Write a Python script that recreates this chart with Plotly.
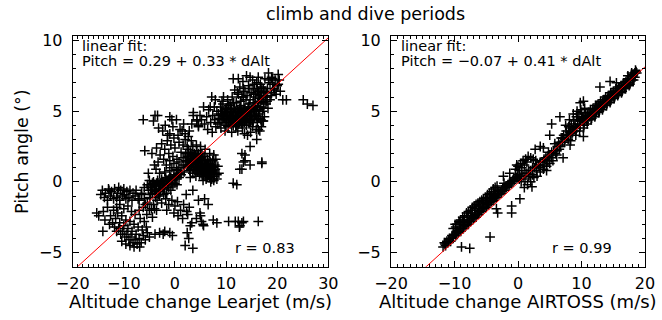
import plotly.graph_objects as go

# ---------------- data ----------------
title_text = "climb and dive periods"
xlabels = ["Altitude change Learjet (m/s)", "Altitude change AIRTOSS (m/s)"]
ylabel = "Pitch angle (°)"
fit_intercepts = [0.29, -0.07]
fit_slopes = [0.33, 0.41]
fit_texts = ["Pitch = 0.29 + 0.33 * dAlt", "Pitch = −0.07 + 0.41 * dAlt"]
corr_texts = ["r = 0.83", "r = 0.99"]
x_ranges = [[-20, 30], [-20, 20]]
y_range = [-6, 10.35]

# Learjet panel: point groups (dAlt, pitch)
lear_upper = [
    (11.4, 7.3), (12.4, 7.3), (14.0, 7.5), (14.7, 7.4), (16.3, 7.4), (18.3, 7.7), (20.2, 7.6), (18.9, 7.4),
    (19.6, 7.2), (17.6, 7.3), (15.2, 7.2), (13.3, 7.1), (12.7, 6.7), (13.7, 6.4), (14.4, 6.8), (15.3, 6.6),
    (16.0, 7.0), (17.0, 6.7), (17.6, 6.4), (18.6, 7.0), (19.3, 6.6), (20.0, 6.8), (20.6, 6.4), (19.8, 6.2),
    (18.9, 6.3), (17.3, 6.1), (16.4, 6.4), (15.8, 6.2), (14.9, 6.3), (14.1, 6.1), (13.1, 6.0), (12.2, 6.3),
    (11.7, 6.5), (18.1, 6.6), (16.7, 6.9), (15.6, 6.9), (18.6, 5.8), (21.1, 5.8), (21.8, 5.8), (25.1, 5.8),
    (25.9, 5.5), (27.0, 5.4), (15.7, 6.0), (16.7, 6.1), (18.0, 6.0), (16.3, 5.7), (14.7, 5.8), (13.4, 6.0),
    (12.4, 6.2), (12.8, 5.7), (10.8, 5.5), (9.5, 6.0), (9.2, 5.7), (7.2, 6.0), (7.9, 5.8), (6.9, 5.3),
    (5.6, 5.3), (4.9, 4.7), (3.6, 4.9), (3.3, 4.1), (4.3, 4.3),
    (8.2, 5.0), (8.6, 4.5), (8.9, 5.3), (9.3, 4.8), (9.6, 4.2), (9.9, 5.1), (10.2, 4.6), (10.5, 5.4),
    (10.8, 4.1), (11.0, 4.9), (11.3, 4.4), (11.6, 5.2), (11.9, 3.9), (12.1, 4.7), (12.4, 5.0), (12.7, 4.3),
    (13.0, 4.8), (13.2, 3.8), (13.5, 5.3), (13.8, 4.5), (14.0, 4.0), (14.3, 4.9), (14.6, 4.4), (14.9, 5.1),
    (15.2, 3.9), (15.5, 4.6), (15.8, 5.4), (16.1, 4.2), (16.4, 4.8), (16.8, 4.4), (17.1, 5.0), (17.5, 4.6),
    (17.8, 5.5), (18.2, 5.2), (8.4, 4.1), (9.0, 3.8), (9.8, 3.6), (10.4, 3.9), (11.1, 3.5), (12.3, 3.6),
    (13.6, 3.4), (14.8, 3.5), (15.9, 3.7), (16.9, 3.9), (17.2, 4.3), (9.2, 4.4), (10.0, 4.0), (10.7, 4.7),
    (11.4, 4.0), (11.8, 4.6), (12.5, 4.1), (12.9, 5.4), (13.3, 4.2), (14.1, 4.7), (14.5, 5.5), (15.0, 4.7),
    (15.6, 5.0), (16.2, 5.3), (16.6, 3.6), (17.4, 5.6), (13.9, 5.8), (12.0, 5.6), (10.3, 5.8), (11.2, 6.0),
    (14.2, 3.3), (6.2, 4.6), (6.6, 5.1), (7.0, 4.2), (7.4, 4.7), (7.7, 5.3), (8.0, 3.9), (5.8, 4.1),
    (6.4, 3.7), (7.3, 3.5), (7.8, 4.4), (5.2, 4.4), (4.6, 3.9), (9.4, 5.5), (10.1, 5.2), (11.5, 5.6),
    (12.6, 5.1), (13.1, 5.0), (14.4, 5.2), (15.3, 5.6), (16.5, 5.9), (17.9, 6.3), (19.1, 6.9), (20.4, 7.2),
]
lear_core_extra = [
    (8.5, 4.8), (8.8, 4.2), (9.1, 5.0), (9.4, 4.5), (9.7, 4.9), (10.0, 4.4), (10.3, 5.0), (10.6, 4.5),
    (10.9, 5.1), (11.2, 4.7), (11.5, 4.2), (11.8, 5.0), (12.1, 4.3), (12.4, 4.6), (12.7, 5.2), (13.0, 4.5),
    (13.3, 4.9), (13.6, 4.2), (13.9, 5.0), (14.2, 4.5), (14.5, 4.1), (14.8, 4.8), (15.1, 4.4), (15.4, 5.1),
    (15.7, 4.7), (16.0, 5.0), (16.3, 4.5), (16.6, 5.1), (9.6, 4.6), (10.1, 4.8), (10.9, 4.6), (11.7, 4.4),
    (12.2, 5.1), (12.8, 4.7), (13.4, 4.5), (14.0, 4.3), (14.6, 4.7), (15.3, 4.2), (11.0, 4.2), (12.0, 4.0),
    (13.0, 4.1), (14.0, 4.6), (15.0, 5.0), (16.0, 4.6), (10.5, 4.3), (11.4, 4.8), (12.6, 4.4), (13.7, 4.8),
    (14.8, 4.3), (9.0, 4.7), (13.1, 4.4), (12.3, 4.9), (11.1, 5.2), (13.6, 5.1), (14.3, 5.3), (15.6, 5.3),
    (16.8, 5.3), (17.3, 5.2), (18.0, 5.7), (16.4, 5.6), (17.0, 5.8), (17.7, 6.0), (18.8, 6.1), (19.5, 6.5),
    (20.2, 6.9), (16.1, 6.5), (17.3, 6.6), (18.3, 7.2), (19.1, 7.3), (14.5, 6.6), (13.4, 6.6), (15.4, 6.2),
    (16.9, 6.3),
]
lear_right = [
    (14.7, 2.5), (16.3, 3.7), (17.3, 4.3), (17.0, 1.4), (13.7, 1.5), (13.1, 0.9), (13.7, 1.9), (16.0, 3.0),
    (13.1, 2.0), (13.4, 1.4), (14.7, 1.2), (12.7, 0.9), (17.0, 1.3), (11.4, -0.1), (12.1, -0.2),
    (5.2, -2.8), (5.6, -3.1), (7.5, -2.7), (8.2, -2.9), (10.5, -2.8), (11.8, -2.8), (12.4, -2.8), (12.7, -3.1),
    (13.1, -2.9), (12.6, -3.2), (13.4, -2.8), (16.3, -2.8), (4.9, -2.2), (2.0, -4.5), (3.5, -4.7), (2.4, -3.6),
    (2.7, -4.0), (5.8, -1.2), (6.5, -1.6),
]
lear_middle = [
    (2.5, 1.8), (3.0, 2.1), (3.4, 1.6), (3.8, 2.0), (4.2, 1.4), (4.5, 1.9), (4.9, 1.2), (5.2, 1.7),
    (5.6, 1.0), (5.9, 1.5), (6.3, 0.8), (6.6, 1.3), (7.0, 0.6), (7.3, 1.1), (7.7, 0.4), (3.2, 1.2),
    (3.6, 0.9), (4.0, 1.1), (4.4, 0.7), (4.8, 0.5), (5.1, 0.9), (5.5, 0.4), (5.8, 0.7), (6.1, 0.2),
    (6.5, 0.5), (6.8, 0.9), (7.2, 0.2), (7.5, 0.7), (7.9, 0.9), (8.2, 0.5), (2.8, 1.4), (3.3, 1.9),
    (3.9, 1.5), (4.3, 2.2), (4.7, 1.6), (5.0, 2.0), (5.4, 1.3), (5.7, 1.8), (6.0, 1.1), (6.4, 1.6),
    (6.9, 1.4), (7.4, 1.5), (7.8, 1.2), (4.1, 0.4), (4.6, 1.0), (5.3, 0.6), (6.2, 1.2), (6.7, 0.3),
    (7.1, 0.9), (3.5, 0.6), (2.9, 0.8), (2.4, 1.1), (2.0, 1.5), (1.6, 1.2), (1.2, 1.0), (1.0, 0.6),
    (0.6, 0.8), (0.3, 0.5), (8.0, 1.6), (8.4, 1.1), (8.6, 0.6), (7.6, 1.9), (6.8, 2.0), (5.9, 2.3),
    (5.0, 2.5), (4.2, 2.6), (3.5, 2.5), (2.6, 2.3), (2.1, 2.0), (1.6, 1.7), (0.8, 1.4), (7.0, 0.0),
    (7.6, 0.1), (8.2, 0.2), (5.5, 0.1), (3.0, 0.3), (1.8, 0.7),
]
lear_mid_extra = [
    (3.7, 1.3), (4.1, 1.7), (4.5, 1.3), (4.9, 1.6), (5.3, 1.1), (5.7, 1.4), (6.1, 0.9), (6.5, 1.1),
    (6.9, 0.7), (7.3, 0.8), (4.3, 1.0), (4.7, 0.8), (5.1, 0.6), (5.5, 0.8), (5.9, 0.4), (6.3, 0.5),
    (6.7, 0.6), (7.1, 0.4), (3.9, 0.8), (3.4, 1.3), (3.0, 1.6), (4.0, 1.9), (4.6, 2.0), (5.3, 1.9),
    (5.8, 1.2), (6.2, 0.7), (6.6, 1.0), (7.0, 1.2), (7.5, 1.0), (7.8, 0.6), (5.0, 1.0), (5.6, 0.6),
    (4.4, 1.5), (3.6, 1.8), (2.7, 1.9), (2.2, 1.5), (2.6, 1.2), (3.1, 0.9),
]
lear_spread = [
    (-6.2, 4.4), (-3.9, 4.7), (-3.4, 4.7), (-4.2, 4.3), (-3.2, 3.8), (-1.9, 4.0), (-1.0, 4.6), (-0.6, 4.4),
    (-1.0, 3.4), (0.3, 4.4), (1.7, 4.1), (1.0, 3.7), (2.0, 3.4), (2.6, 3.2), (3.6, 4.7), (4.3, 4.4),
    (4.6, 4.0), (-5.9, 2.2), (-5.2, 0.6), (-2.6, 2.7), (-2.0, 2.3), (-1.5, 2.9), (-1.2, 2.0), (-0.8, 2.6),
    (-0.4, 1.8), (0.0, 2.4), (0.4, 1.6), (0.8, 2.8), (1.2, 2.1), (1.6, 2.6), (2.0, 3.0), (2.4, 2.5),
    (-2.2, 1.6), (-1.7, 1.2), (-1.0, 1.5), (-0.6, 1.0), (-0.2, 1.3), (0.3, 0.9), (-2.9, 1.9), (-3.3, 1.4),
    (-3.7, 0.9), (-1.4, 3.3), (-0.2, 3.1), (0.6, 3.3), (1.4, 3.6), (2.8, 3.6), (3.2, 2.9), (-3.6, 2.4),
    (-4.5, 2.0), (-4.0, 1.2), (-2.4, 3.6), (-0.4, 3.9),
]
lear_origin = [
    (-5.4, -0.2), (-5.0, 0.1), (-4.6, -0.4), (-4.2, 0.0), (-3.8, -0.3), (-3.4, 0.1), (-3.0, -0.2), (-2.6, 0.2),
    (-2.2, -0.1), (-1.8, 0.3), (-1.4, 0.0), (-1.0, 0.4), (-0.6, 0.1), (-0.2, 0.5), (0.2, 0.2), (0.6, 0.6),
    (-5.2, -0.6), (-4.4, -0.8), (-3.6, -0.6), (-2.8, -0.7), (-2.0, -0.5), (-1.2, -0.4), (-0.4, -0.3), (0.4, -0.2),
    (-4.8, -0.9), (-4.0, -0.5), (-3.2, -0.9), (-2.4, -0.4), (-1.6, -0.8), (-0.8, -0.6), (0.0, -0.1), (-3.0, 0.6),
    (-2.0, 0.7), (-1.0, 0.8), (-6.0, -1.2), (-5.4, -1.5), (-4.9, -1.1), (-4.2, -1.6), (-3.5, -1.3), (-2.6, -1.5),
    (-1.8, -1.2), (-1.2, -1.6), (-0.6, -1.3), (0.0, -1.7), (0.5, -1.4), (1.1, -2.0), (1.7, -1.6), (2.3, -2.1),
    (2.8, -1.8), (-0.2, -2.2), (0.6, -2.4), (1.5, -2.6), (2.5, -2.3), (3.3, -2.9), (4.2, -2.6), (5.0, -2.4),
    (5.5, -3.0), (3.0, -3.1), (-1.6, -2.0), (-3.6, -2.0), (-7.0, -1.3), (-6.5, -0.8), (-6.0, -0.4), (-5.8, -1.6),
    (-4.6, -1.9), (-3.8, -1.1), (-3.0, -1.0), (-2.2, -0.9), (3.5, -0.6), (2.2, -0.9), (4.6, -1.3),
]
lear_origin_extra = [
    (-4.8, -0.3), (-4.4, -0.1), (-4.0, -0.2), (-3.6, -0.1), (-3.2, -0.3), (-2.8, -0.1), (-2.4, 0.0),
    (-2.0, -0.2), (-1.6, 0.1), (-1.2, 0.2), (-0.8, 0.3), (-0.4, 0.2), (0.0, 0.3), (0.4, 0.4), (-4.6, -0.6),
    (-3.8, -0.7), (-3.0, -0.5), (-2.2, -0.3), (-1.4, -0.2), (-0.6, -0.1), (0.8, 0.3), (1.2, 0.5),
]
lear_band = [
    (-14.2, -0.6), (-13.6, -0.8), (-13.0, -0.5), (-12.4, -0.7), (-11.8, -0.5), (-11.2, -0.8), (-10.6, -0.6),
    (-10.0, -0.5), (-9.4, -0.7), (-8.8, -0.6), (-8.2, -0.8), (-7.6, -0.6), (-13.8, -1.1), (-13.2, -1.3),
    (-12.6, -1.0), (-12.0, -1.2), (-11.4, -1.1), (-10.8, -1.3), (-10.2, -1.0), (-9.6, -1.2), (-9.0, -1.1),
    (-8.4, -1.3), (-7.8, -1.0), (-7.2, -1.2), (-6.6, -0.9), (-14.5, -0.9), (-12.9, -0.6), (-11.0, -0.4),
    (-9.9, -0.9), (-15.3, -2.2), (-14.0, -2.1), (-13.7, -2.7), (-14.1, -3.5), (-14.9, -2.4), (-13.2, -1.8),
]
lear_lower = [
    (-12.0, -2.0), (-11.6, -2.6), (-11.2, -2.2), (-10.8, -2.9), (-10.4, -2.4), (-10.0, -3.1), (-9.6, -2.7),
    (-9.2, -3.3), (-8.8, -2.8), (-8.4, -3.5), (-8.0, -3.0), (-7.6, -3.7), (-12.2, -2.9), (-11.8, -3.2),
    (-11.4, -3.5), (-11.0, -3.3), (-10.6, -3.7), (-10.2, -3.5), (-9.8, -3.9), (-9.4, -3.7), (-9.0, -4.1),
    (-8.6, -3.9), (-8.2, -4.3), (-7.8, -4.1), (-7.4, -4.4), (-7.0, -4.0), (-6.6, -4.3), (-6.2, -3.8),
    (-5.8, -4.1), (-5.4, -3.6), (-5.0, -3.9), (-5.6, -3.2), (-6.0, -2.8), (-6.4, -3.4), (-7.2, -3.2),
    (-6.8, -2.6), (-11.4, -1.8), (-10.8, -1.6), (-10.0, -1.9), (-9.2, -1.7), (-8.5, -2.1), (-7.8, -2.3),
    (-7.0, -2.0), (-6.2, -1.8), (-5.5, -2.3), (-5.0, -2.0), (-4.4, -2.5), (-4.0, -1.9), (-12.6, -2.4),
    (-12.8, -3.0), (-8.8, -4.5), (-8.0, -4.6), (-6.9, -4.6), (-3.9, -3.7), (-3.0, -3.6), (-2.3, -3.7),
    (-1.0, -3.6), (-0.5, -3.8), (-2.0, -3.5), (-10.4, -4.2), (-9.6, -4.4),
]

# AIRTOSS panel: point groups (dAlt, pitch)
airt_low_band = [
    (-11.8, -4.6), (-11.6, -4.3), (-11.4, -4.5), (-11.2, -4.2), (-11.0, -4.3), (-10.8, -4.0), (-10.6, -4.2),
    (-10.4, -3.8), (-10.2, -4.0), (-10.0, -3.7), (-9.8, -3.8), (-9.6, -3.5), (-9.4, -3.6), (-9.2, -3.4),
    (-9.0, -3.5), (-8.8, -3.2), (-8.6, -3.3), (-8.4, -3.0), (-8.2, -3.1), (-8.0, -2.9), (-7.8, -3.0),
    (-7.6, -2.7), (-7.4, -2.8), (-7.2, -2.5), (-7.0, -2.6), (-6.8, -2.4), (-6.6, -2.5), (-6.4, -2.2),
    (-6.2, -2.3), (-6.0, -2.0), (-5.8, -2.1), (-5.6, -1.9), (-5.4, -1.9), (-5.2, -1.7), (-5.0, -1.8),
    (-4.8, -1.5), (-4.6, -1.6), (-4.4, -1.4), (-4.2, -1.4), (-4.0, -1.2), (-3.8, -1.3), (-3.6, -1.0),
    (-3.4, -1.1), (-3.2, -0.9), (-3.0, -0.9), (-2.8, -0.7), (-2.6, -0.8), (-2.4, -0.5), (-2.2, -0.6),
    (-2.0, -0.4), (-1.8, -0.4), (-1.6, -0.2), (-1.4, -0.3), (-1.2, 0.0), (-1.0, -0.1), (-0.8, 0.1),
    (-0.6, 0.1), (-0.4, 0.3), (-0.2, 0.3), (0.0, 0.5),
    (-11.5, -4.4), (-10.9, -4.1), (-10.3, -3.9), (-9.7, -3.6), (-9.1, -3.3), (-8.5, -3.1), (-7.9, -2.8),
    (-7.3, -2.6), (-6.7, -2.3), (-6.1, -2.1), (-5.5, -1.8), (-4.9, -1.6), (-4.3, -1.3), (-3.7, -1.1),
    (-3.1, -0.8), (-2.5, -0.6), (-1.9, -0.3), (-1.3, -0.1), (-0.7, 0.2), (-0.1, 0.4),
]
airt_up_band = [
    (-10.2, -3.3), (-9.9, -3.0), (-9.6, -3.0), (-9.3, -2.8), (-9.0, -2.7), (-8.7, -2.5), (-8.4, -2.4),
    (-8.1, -2.2), (-7.8, -2.1), (-7.5, -2.0), (-7.2, -1.8), (-6.9, -1.7), (-6.6, -1.6), (-6.3, -1.5),
    (-6.0, -1.4), (-5.7, -1.3), (-5.4, -1.2), (-5.1, -1.1), (-4.8, -0.9), (-4.5, -0.8), (-4.2, -0.7),
    (-3.9, -0.5), (-3.6, -0.4), (-3.3, -0.3), (-2.3, 0.4), (-1.3, 0.6), (-2.2, -0.1), (-4.4, -3.9),
    (-8.9, -4.6), (-7.6, -4.7), (-1.0, -1.7), (-1.0, -2.2), (-3.2, -2.2), (-3.4, -1.9),
    (-9.8, -3.2), (-9.2, -2.9), (-8.6, -2.7), (-8.0, -2.4), (-7.4, -2.2), (-6.8, -1.9), (-6.2, -1.7),
    (-5.6, -1.5), (-5.0, -1.3), (-4.4, -1.0), (-3.8, -0.8), (-3.2, -0.6),
]
airt_mid = [
    (0.2, 0.2), (0.5, 0.0), (0.8, 0.4), (1.1, 0.2), (1.4, 0.6), (1.7, 0.4), (2.0, 0.8), (2.3, 0.5),
    (2.6, 1.0), (2.9, 0.8), (3.2, 1.2), (3.5, 1.0), (3.8, 1.4), (4.1, 1.2), (4.4, 1.7), (4.7, 1.5),
    (5.0, 1.9), (5.3, 1.7), (5.6, 2.2), (5.9, 2.0), (6.2, 2.5), (6.5, 2.3), (1.0, -0.4), (1.5, -0.2),
    (2.0, 0.0), (2.5, 0.3), (3.0, 0.4), (3.5, 0.7), (4.0, 0.9), (4.5, 1.1), (5.0, 1.3), (5.5, 1.5),
    (2.2, -0.35), (0.3, -1.2), (0.0, 1.1), (0.4, 1.3), (0.8, 1.5), (1.2, 1.6), (1.6, 1.8), (2.0, 1.7),
    (2.4, 1.6), (2.8, 1.5), (0.2, 0.8), (0.6, 1.0), (1.0, 1.2), (1.4, 1.4), (-0.4, 0.9), (-0.2, 1.2),
    (0.5, 0.4), (1.1, 0.6), (1.7, 0.8), (2.3, 1.0), (2.9, 1.1), (3.5, 1.4), (4.1, 1.6), (4.7, 1.8), (5.3, 2.1),
]
airt_upper = [
    (6.6, 2.6), (6.8, 3.1), (7.0, 2.8), (7.2, 3.3), (7.4, 3.0), (7.6, 3.6), (7.8, 3.3), (8.0, 3.9),
    (8.2, 3.5), (8.4, 4.1), (8.6, 3.7), (8.8, 4.3), (9.0, 3.9), (9.2, 4.6), (9.4, 4.1), (9.6, 4.8),
    (9.8, 4.3), (10.0, 4.9), (10.2, 4.5), (10.4, 4.2), (10.6, 4.8), (10.8, 4.4), (11.0, 4.9), (11.2, 4.6),
    (11.4, 5.1), (11.6, 4.7), (11.8, 5.2), (12.0, 4.9), (12.2, 5.4), (12.4, 5.0), (12.6, 5.5), (12.8, 5.2),
    (13.0, 5.7), (13.2, 5.3), (13.4, 5.8), (13.6, 5.5), (13.8, 6.0), (14.0, 5.7), (14.2, 6.1), (14.4, 5.8),
    (14.6, 6.3), (14.8, 6.0), (15.0, 6.4), (15.2, 6.1), (15.4, 6.6), (15.6, 6.3), (15.8, 6.7), (16.0, 6.4),
    (16.2, 6.8), (16.4, 6.6), (16.6, 7.0), (16.8, 6.7), (17.0, 7.1), (17.2, 6.9), (17.4, 7.3), (17.6, 7.0),
    (17.8, 7.5), (18.0, 7.2), (18.2, 7.6), (18.4, 7.4), (18.6, 7.8), (18.5, 7.9), (17.9, 7.7), (17.3, 7.5),
    (7.5, 4.0), (8.1, 4.4), (8.7, 4.8), (9.3, 5.0), (9.9, 5.1), (10.5, 5.2), (8.3, 2.9), (9.1, 3.3),
    (9.7, 3.6), (10.3, 3.8), (10.9, 4.1), (11.5, 4.4), (12.1, 4.6), (12.7, 4.9), (13.3, 5.1), (13.9, 5.4),
    (14.5, 5.6), (15.1, 5.9), (15.7, 6.1), (16.3, 6.3), (16.9, 6.6), (17.5, 6.8),
    (10.3, 5.7), (12.9, 6.7), (14.5, 7.1), (15.5, 7.0), (10.3, 3.2), (8.2, 2.6), (7.1, 1.7), (3.5, 2.5),
    (2.7, 2.3), (4.0, 2.4), (5.3, 4.1), (6.6, 4.6), (5.0, 3.3), (4.8, 2.1), (9.8, 5.6), (6.1, 1.9), (4.5, 0.8),
]
airt_band_extra = [
    (5.8, 2.7), (6.1, 2.2), (6.4, 2.8), (6.7, 2.5), (7.0, 3.1), (7.3, 2.8), (7.6, 3.3), (7.9, 3.0),
    (8.2, 3.8), (8.5, 3.4), (8.8, 3.9), (9.1, 3.6), (9.4, 4.4), (9.7, 4.0), (10.0, 4.6), (10.3, 4.3),
    (10.6, 4.5), (10.9, 4.7), (11.2, 4.9), (11.5, 4.8), (11.8, 4.9), (12.1, 5.1), (12.4, 5.3), (12.7, 5.3),
    (13.0, 5.4), (13.3, 5.6), (13.6, 5.8), (13.9, 5.7), (14.2, 5.9), (14.5, 6.0), (14.8, 6.2), (15.1, 6.2),
    (15.4, 6.4), (15.7, 6.5), (16.0, 6.7), (16.3, 6.7), (16.6, 6.8), (16.9, 7.0), (17.2, 7.2), (17.5, 7.2),
    (17.8, 7.3), (18.1, 7.5), (18.4, 7.7), (18.7, 7.7), (8.0, 3.3), (8.6, 3.5), (9.2, 3.8), (9.8, 4.0),
    (10.4, 4.0), (11.0, 4.4), (11.6, 4.5), (12.2, 4.8), (12.8, 5.0), (13.4, 5.3), (14.0, 5.5), (14.6, 5.8),
    (15.2, 6.0), (15.8, 6.2), (16.4, 6.4), (17.0, 6.7), (17.6, 6.9), (18.2, 7.2),
]

groups_left = [lear_upper, lear_core_extra, lear_right, lear_middle, lear_mid_extra, lear_spread,
               lear_origin, lear_origin_extra, lear_band, lear_lower]
groups_right = [airt_low_band, airt_up_band, airt_mid, airt_upper, airt_band_extra]

# ---------------- figure ----------------
W, H = 662, 320
frames = [(72.7, 328.3), (391.0, 645.0)]  # pixel x extent of each panel
top_px, bot_px = 35.5, 266.7
ydom = [1 - bot_px / H, 1 - top_px / H]

FONT = "DejaVu Sans"
fig = go.Figure()

for i, groups in enumerate([groups_left, groups_right]):
    xs = [p[0] for g in groups for p in g]
    ys = [p[1] for g in groups for p in g]
    xa = "x" if i == 0 else "x2"
    ya = "y" if i == 0 else "y2"
    fig.add_trace(go.Scatter(
        x=xs, y=ys, mode="markers", xaxis=xa, yaxis=ya, showlegend=False,
        marker=dict(symbol="cross-thin", size=7, line=dict(width=1.5, color="black"), color="black"),
    ))
    x0, x1 = x_ranges[i]
    fx = [x0 + (x1 - x0) * k / 200 for k in range(201)]
    fy = [fit_intercepts[i] + fit_slopes[i] * v for v in fx]
    fig.add_trace(go.Scatter(x=fx, y=fy, mode="lines", xaxis=xa, yaxis=ya, showlegend=False,
                             line=dict(color="#ff0000", width=1)))

common_axis = dict(
    showline=True, linecolor="black", linewidth=1, mirror="allticks",
    ticks="inside", ticklen=6, tickwidth=1, tickcolor="black",
    showgrid=False, zeroline=False, automargin=False,
    tickfont=dict(family=FONT, size=16, color="black"),
)

for i in range(2):
    xl, xr = frames[i]
    xkey = "xaxis" if i == 0 else "xaxis2"
    ykey = "yaxis" if i == 0 else "yaxis2"
    fig.layout[xkey] = dict(
        common_axis, domain=[xl / W, xr / W], range=x_ranges[i], dtick=10,
        anchor="y" if i == 0 else "y2",
        minor=dict(dtick=1, ticks="inside", ticklen=3, tickcolor="black", tickwidth=1),
        ticklabelstandoff=2,
    )
    fig.layout[ykey] = dict(
        common_axis, domain=ydom, range=y_range, dtick=5,
        anchor="x" if i == 0 else "x2",
        minor=dict(dtick=1, ticks="inside", ticklen=3, tickcolor="black", tickwidth=1),
        ticklabelstandoff=6,
    )

ann = []
ann.append(dict(text=title_text, x=365 / W, y=1 - 14 / H, xref="paper", yref="paper",
                showarrow=False, xanchor="center", yanchor="middle",
                font=dict(family=FONT, size=17.5, color="black")))
for i in range(2):
    xl, xr = frames[i]
    ann.append(dict(text=xlabels[i], x=(xl + xr) / 2 / W, y=1 - 301 / H, xref="paper", yref="paper",
                    showarrow=False, xanchor="center", yanchor="middle",
                    font=dict(family=FONT, size=18, color="black")))
    ann.append(dict(text="linear fit:", x=(xl + 7.5) / W, y=1 - 46 / H, xref="paper", yref="paper",
                    showarrow=False, xanchor="left", yanchor="middle",
                    font=dict(family=FONT, size=14.5, color="black")))
    ann.append(dict(text=fit_texts[i], x=(xl + 7.5) / W, y=1 - 61 / H, xref="paper", yref="paper",
                    showarrow=False, xanchor="left", yanchor="middle",
                    font=dict(family=FONT, size=14.5, color="black")))
    ann.append(dict(text=corr_texts[i], x=(xr - 31) / W, y=1 - 248 / H, xref="paper", yref="paper",
                    showarrow=False, xanchor="right", yanchor="middle",
                    font=dict(family=FONT, size=14.5, color="black")))
ann.append(dict(text=ylabel, x=22 / W, y=1 - 152 / H, xref="paper", yref="paper", textangle=-90,
                showarrow=False, xanchor="center", yanchor="middle",
                font=dict(family=FONT, size=17.5, color="black")))

fig.update_layout(
    width=W, height=H, margin=dict(l=0, r=0, t=0, b=0),
    paper_bgcolor="white", plot_bgcolor="white", annotations=ann,
)

fig.write_html("out.html")
